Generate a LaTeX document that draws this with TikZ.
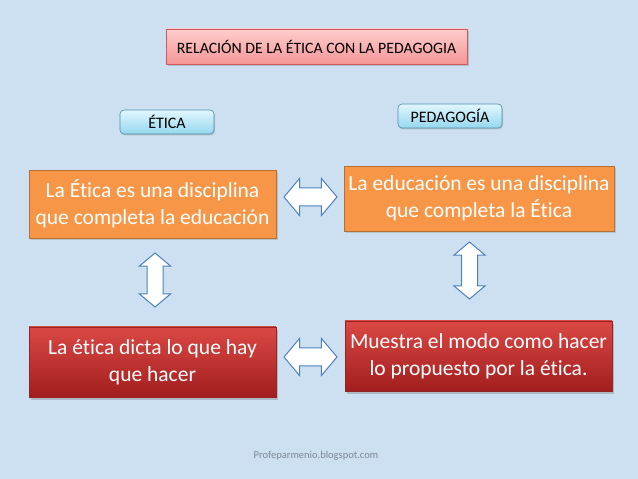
\documentclass[tikz,border=0pt]{standalone}
\usepackage{fontspec}
\setmainfont{Carlito}[Ligatures=NoCommon]
\usetikzlibrary{shapes.arrows,shadows}
\definecolor{bgblue}{RGB}{204,224,241}
\definecolor{titletop}{RGB}{255,205,205}
\definecolor{titlebot}{RGB}{244,150,150}
\definecolor{titleline}{RGB}{205,90,90}
\definecolor{cyantop}{RGB}{225,247,255}
\definecolor{cyanbot}{RGB}{150,215,238}
\definecolor{cyanline}{RGB}{80,140,170}
\definecolor{orangefill}{RGB}{247,150,70}
\definecolor{orangeline}{RGB}{185,110,50}
\definecolor{redtop}{RGB}{218,72,68}
\definecolor{redbot}{RGB}{162,30,30}
\definecolor{redline}{RGB}{150,35,35}
\definecolor{arrowline}{RGB}{79,129,189}
\definecolor{marktext}{RGB}{125,135,150}
\tikzset{
  titlebox/.style={draw=titleline, line width=0.6pt, top color=titletop, bottom color=titlebot,
    minimum width=301pt, minimum height=35pt, inner sep=0pt, font=\fontsize{15.8}{18}\selectfont,
    drop shadow={opacity=0.35, shadow xshift=1.5pt, shadow yshift=-2pt}},
  labelbox/.style={draw=cyanline, line width=0.6pt, rounded corners=4pt, top color=cyantop, bottom color=cyanbot,
    minimum height=24pt, inner sep=0pt, font=\fontsize{16}{18}\selectfont,
    drop shadow={opacity=0.3, shadow xshift=1pt, shadow yshift=-1.5pt}},
  orangebox/.style={draw=orangeline, line width=0.8pt, fill=orangefill, text=white, align=center,
    inner sep=0pt, font=\fontsize{21.5}{27}\selectfont,
    drop shadow={opacity=0.3, shadow xshift=1.5pt, shadow yshift=-2pt}},
  redbox/.style={draw=redline, line width=0.6pt, top color=redtop, bottom color=redbot, text=white, align=center,
    inner sep=0pt, font=\fontsize{21.5}{27}\selectfont,
    drop shadow={opacity=0.4, shadow xshift=2pt, shadow yshift=-3pt}},
  dblarrow/.style={double arrow, draw=arrowline, line width=1pt, fill=white,
    minimum width=36pt, double arrow head extend=9.5pt, double arrow tip angle=100},
  harrow/.style={dblarrow, inner xsep=0pt, inner ysep=8.5pt},
  varrow/.style={dblarrow, shape border rotate=90, inner xsep=7.5pt, inner ysep=0pt, minimum width=30pt, double arrow head extend=7.5pt},
}
\begin{document}
\begin{tikzpicture}[x=1pt,y=1pt]
\fill[bgblue] (0,0) rectangle (638,479);
\useasboundingbox (0,0) rectangle (638,479);

\node[titlebox] (title) at (316.5,432.5) {RELACIÓN DE LA ÉTICA CON LA PEDAGOGIA};
\node[labelbox, minimum width=94pt] (etica) at (167,357) {ÉTICA};
\node[labelbox, minimum width=104pt] (ped) at (450,363) {PEDAGOGÍA};

\node[orangebox, minimum width=247pt, minimum height=68pt] (o1) at (152.5,275)
  {La Ética es una disciplina\\que completa la educación};
\node[orangebox, minimum width=270pt, minimum height=65pt] (o2) at (479,280.5)
  {La educación es una disciplina\\que completa la Ética};
\node[redbox, minimum width=247pt, minimum height=70pt] (r1) at (152.5,117)
  {La ética dicta lo que hay\\que hacer};
\node[redbox, minimum width=267pt, minimum height=70pt] (r2) at (478.5,123)
  {Muestra el modo como hacer\\lo propuesto por la ética.};

\node[harrow, minimum height=53pt] (a1) at (310.5,282) {};
\node[harrow, minimum height=53pt] (a4) at (310.5,122) {};
\node[varrow, minimum height=54pt] (a2) at (155,199) {};
\node[varrow, minimum height=57pt] (a3) at (469.5,208.5) {};

\node[text=marktext, font=\fontsize{10.5}{12}\selectfont] (mark) at (316,23) {Profeparmenio.blogspot.com};
\end{tikzpicture}
\end{document}
